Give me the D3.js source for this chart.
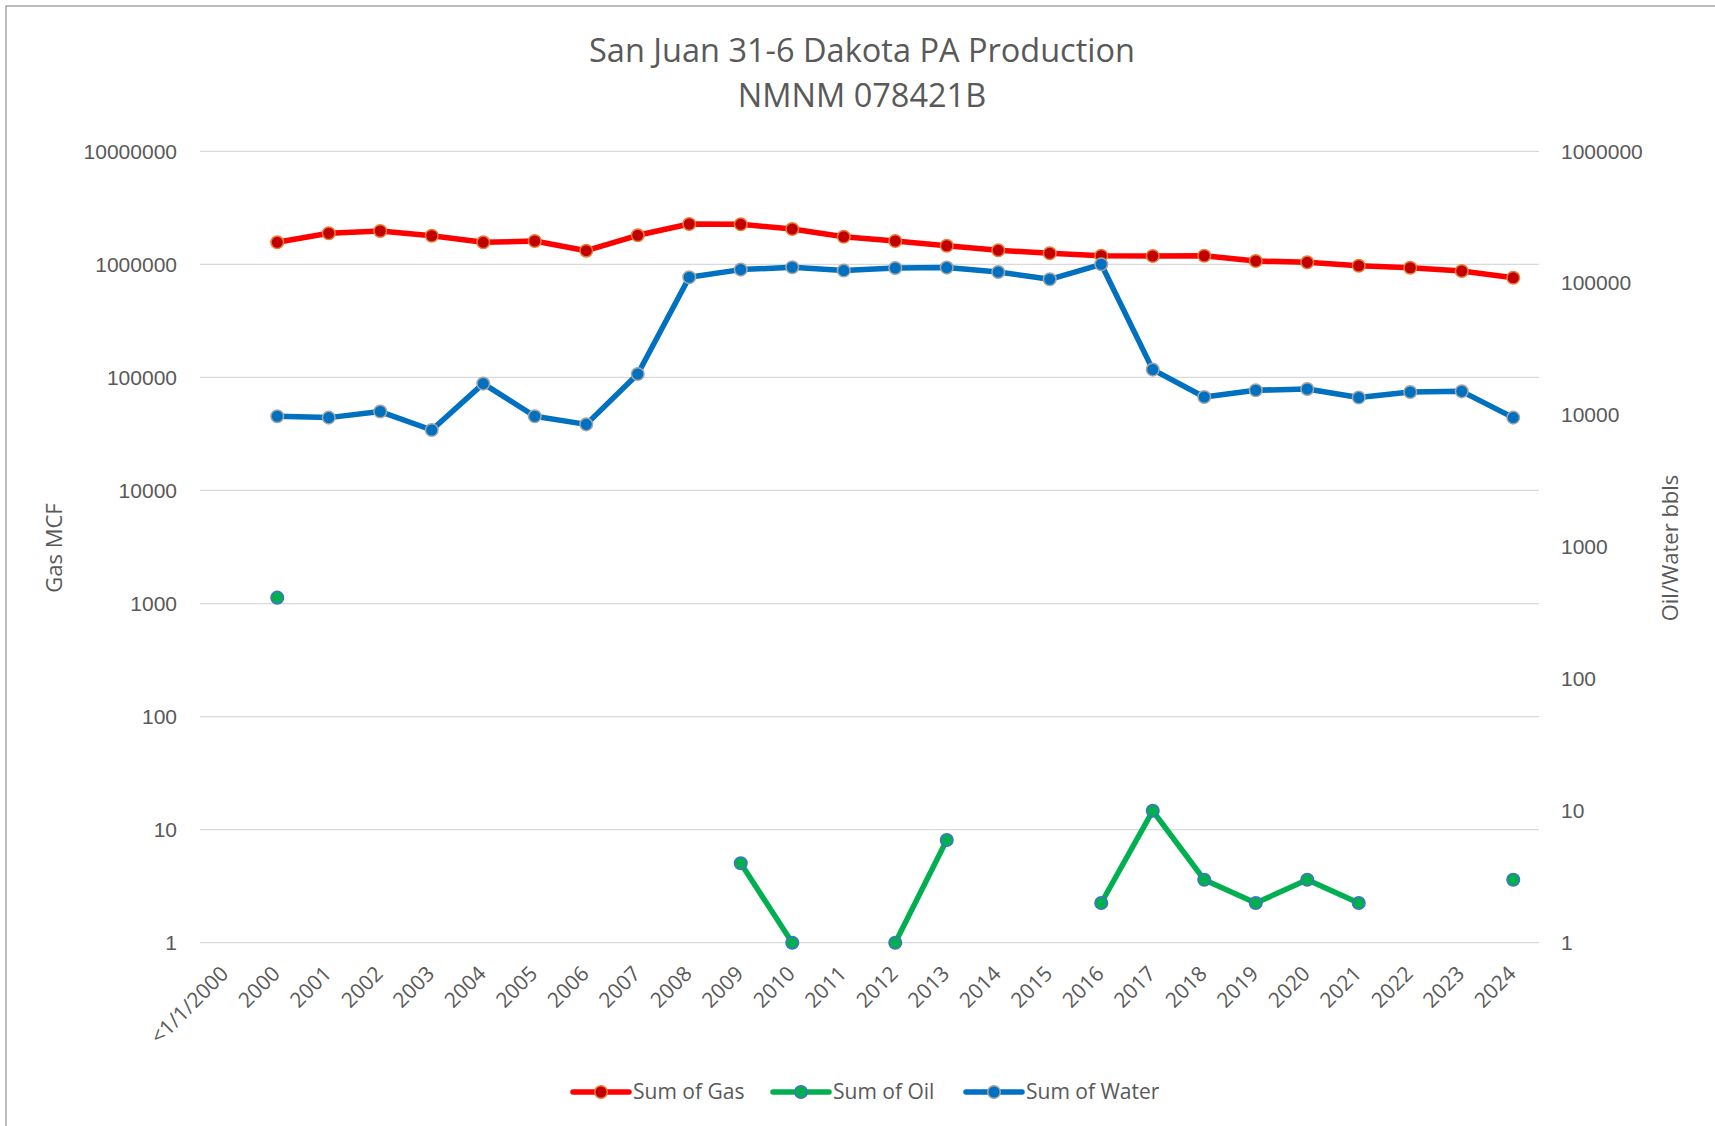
<!DOCTYPE html>
<html>
<head>
<meta charset="utf-8">
<script src="https://cdn.jsdelivr.net/npm/d3@7"></script>
<style>
  html, body { margin: 0; padding: 0; background: #fff; }
  svg { display: block; font-family: 'Open Sans', 'Noto Sans', sans-serif; }
  .tick-label { fill: #595959; font-size: 21px; }
  .axis-title { fill: #595959; font-size: 22px; }
  .chart-title { fill: #595959; font-size: 32.5px; }
  .legend-label { fill: #595959; font-size: 21px; }
</style>
</head>
<body>
<div id="chart"></div>
<script>
'use strict';

var categories = ['<1/1/2000', '2000', '2001', '2002', '2003', '2004', '2005', '2006',
  '2007', '2008', '2009', '2010', '2011', '2012', '2013', '2014', '2015', '2016',
  '2017', '2018', '2019', '2020', '2021', '2022', '2023', '2024'];

// values per category, null = no data
var gasValues = [null, 1567000, 1883000, 1972000, 1792000, 1567000, 1608000, 1321000,
  1807000, 2274000, 2260000, 2055000, 1755000, 1608000, 1462000, 1331000, 1253000,
  1192000, 1185000, 1192000, 1071000, 1042000, 973000, 934000, 873000, 762000];

var oilValues = [null, 413, null, null, null, null, null, null, null, null, 4, 1, null,
  1, 6, null, null, 2, 10, 3, 2, 3, 2, null, null, 3];

var waterValues = [null, 9800, 9570, 10640, 7710, 17330, 9800, 8510, 20500, 110900,
  126800, 132100, 124700, 130400, 131300, 121600, 107100, 139100, 22130, 13710, 15420,
  15780, 13580, 14970, 15140, 9570];

var leftTicks = [1, 10, 100, 1000, 10000, 100000, 1000000, 10000000];
var rightTicks = [1, 10, 100, 1000, 10000, 100000, 1000000];

var titleLines = ['San Juan 31-6 Dakota PA Production', 'NMNM 078421B'];

var series = [
  { name: 'Sum of Gas', values: gasValues, axis: 'left',
    line: '#ff0000', fill: '#c00000', stroke: '#ed7d31' },
  { name: 'Sum of Oil', values: oilValues, axis: 'right',
    line: '#00b050', fill: '#00b050', stroke: '#4472c4' },
  { name: 'Sum of Water', values: waterValues, axis: 'right',
    line: '#0070c0', fill: '#0070c0', stroke: '#a5a5a5' }
];

var width = 1715;
var height = 1126;

var area = { left: 200, right: 1539, top: 151.3, bottom: 942.7 };

var svg = d3.select('#chart')
  .append('svg')
    .attr('width', width)
    .attr('height', height);

svg.append('rect')
  .attr('x', 0).attr('y', 0)
  .attr('width', width).attr('height', height)
  .attr('fill', '#fff');

// chart frame, cut off on the right and bottom like the screenshot
svg.append('rect')
  .attr('x', 6).attr('y', 6)
  .attr('width', width + 40).attr('height', height + 40)
  .attr('fill', 'none')
  .attr('stroke', '#a6a6a6')
  .attr('stroke-width', 1.5);

var x = d3.scalePoint()
  .domain(categories)
  .range([area.left, area.right])
  .padding(0.5);

var yLeft = d3.scaleLog()
  .domain([1, 10000000])
  .range([area.bottom, area.top]);

var yRight = d3.scaleLog()
  .domain([1, 1000000])
  .range([area.bottom, area.top]);

// gridlines (left axis)
svg.append('g')
  .attr('class', 'grid')
.selectAll('line')
.data(leftTicks)
.enter().append('line')
  .attr('x1', area.left)
  .attr('x2', area.right)
  .attr('y1', function(d) { return yLeft(d); })
  .attr('y2', function(d) { return yLeft(d); })
  .attr('stroke', '#d9d9d9')
  .attr('stroke-width', 1.3);

var leftAxis = d3.axisLeft(yLeft)
  .tickValues(leftTicks)
  .tickFormat(d3.format('d'))
  .tickSize(0)
  .tickPadding(0);

svg.append('g')
  .attr('transform', 'translate(177,0)')
  .call(leftAxis)
  .call(function(g) { g.select('.domain').remove(); })
  .selectAll('text')
    .attr('class', 'tick-label')
    .attr('font-family', null)
    .attr('font-size', null)
    .attr('fill', null);

var rightAxis = d3.axisRight(yRight)
  .tickValues(rightTicks)
  .tickFormat(d3.format('d'))
  .tickSize(0)
  .tickPadding(0);

svg.append('g')
  .attr('transform', 'translate(1561,0)')
  .call(rightAxis)
  .call(function(g) { g.select('.domain').remove(); })
  .selectAll('text')
    .attr('class', 'tick-label')
    .attr('font-family', null)
    .attr('font-size', null)
    .attr('fill', null);

// category labels, rotated
svg.append('g')
.selectAll('text')
.data(categories)
.enter().append('text')
  .attr('class', 'tick-label')
  .attr('text-anchor', 'end')
  .attr('transform', function(d) {
    return 'translate(' + (x(d) + 4) + ',975) rotate(-45)';
  })
  .text(function(d) { return d; });

// axis titles
svg.append('text')
  .attr('class', 'axis-title')
  .attr('text-anchor', 'middle')
  .attr('transform', 'translate(62,548) rotate(-90)')
  .text('Gas MCF');

svg.append('text')
  .attr('class', 'axis-title')
  .attr('text-anchor', 'middle')
  .attr('transform', 'translate(1678,548) rotate(-90)')
  .text('Oil/Water bbls');

// title
svg.append('g')
.selectAll('text')
.data(titleLines)
.enter().append('text')
  .attr('class', 'chart-title')
  .attr('text-anchor', 'middle')
  .attr('x', 862)
  .attr('y', function(d, i) { return 61.5 + i * 45.5; })
  .text(function(d) { return d; });

// series
series.forEach(function(s) {
  var y = s.axis === 'left' ? yLeft : yRight;
  var points = s.values.map(function(v, i) { return { c: categories[i], v: v }; });

  var lineGen = d3.line()
    .defined(function(d) { return d.v != null; })
    .x(function(d) { return x(d.c); })
    .y(function(d) { return y(d.v); });

  var g = svg.append('g').attr('class', 'series');

  g.append('path')
    .datum(points)
    .attr('fill', 'none')
    .attr('stroke', s.line)
    .attr('stroke-width', 5.5)
    .attr('stroke-linejoin', 'round')
    .attr('stroke-linecap', 'round')
    .attr('d', lineGen);

  g.selectAll('circle')
    .data(points.filter(function(d) { return d.v != null; }))
    .enter().append('circle')
      .attr('cx', function(d) { return x(d.c); })
      .attr('cy', function(d) { return y(d.v); })
      .attr('r', 6.3)
      .attr('fill', s.fill)
      .attr('stroke', s.stroke)
      .attr('stroke-width', 1.5);
});

// legend
var legendX = [573, 773, 966];
var legend = svg.append('g')
.selectAll('g')
.data(series)
.enter().append('g')
  .attr('transform', function(d, i) { return 'translate(' + legendX[i] + ',1092)'; });

legend.append('line')
  .attr('x1', 0).attr('x2', 56)
  .attr('y1', 0).attr('y2', 0)
  .attr('stroke', function(d) { return d.line; })
  .attr('stroke-width', 5.5)
  .attr('stroke-linecap', 'round');

legend.append('circle')
  .attr('cx', 28).attr('cy', 0)
  .attr('r', 6.3)
  .attr('fill', function(d) { return d.fill; })
  .attr('stroke', function(d) { return d.stroke; })
  .attr('stroke-width', 1.5);

legend.append('text')
  .attr('class', 'legend-label')
  .attr('x', 60)
  .attr('dy', '0.35em')
  .text(function(d) { return d.name; });
</script>
</body>
</html>
